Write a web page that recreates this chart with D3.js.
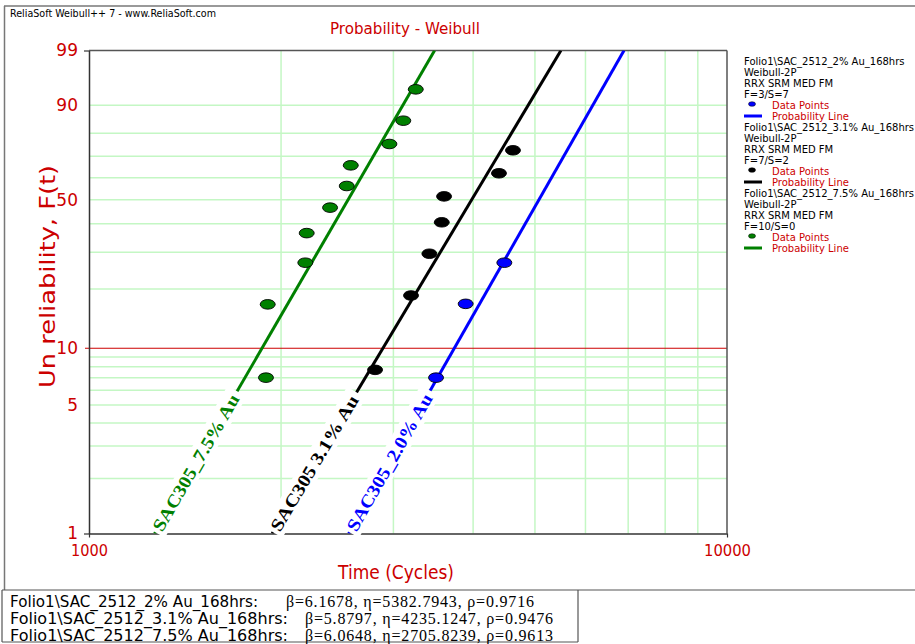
<!DOCTYPE html>
<html><head><meta charset="utf-8">
<script src="https://cdn.jsdelivr.net/npm/d3@7"></script>
<style>body{margin:0;background:#fff;overflow:hidden} svg{display:block}</style>
</head><body>
<svg id="c" width="915" height="644"></svg>
<script>
// ---------------- data ----------------
const seriesNames = ["SAC_2512_2% Au_168hrs", "SAC_2512_3.1% Au_168hrs", "SAC_2512_7.5% Au_168hrs"];
const curveLabels = ["SAC305_2.0% Au", "SAC305 3.1% Au", "SAC305_7.5% Au"];
const seriesColors = ["#0000ff", "#000000", "#008000"];
const betas = [6.1678, 5.8797, 6.0648];
const etas = [5382.7943, 4235.1247, 2705.8239];
const rhos = [0.9716, 0.9476, 0.9613];
const failSusp = ["F=3/S=7", "F=7/S=2", "F=10/S=0"];
// data points: time (cycles) and unreliability (%)
const times2 = [3499, 3894, 4477];
const unrel2 = [7.0, 16.9, 26.8];
const times31 = [2808, 3197, 3416, 3572, 3602, 4391, 4619];
const unrel31 = [7.7, 18.6, 29.5, 40.6, 51.5, 62.1, 72.7];
const times75 = [1894, 1906, 2183, 2194, 2387, 2535, 2572, 2957, 3109, 3252];
const unrel75 = [7.0, 16.8, 26.8, 36.5, 46.6, 56.2, 65.8, 75.5, 84.9, 94.0];
const yTickLabels = [1, 5, 10, 50, 90, 99];
const yGridValues = [2, 3, 4, 5, 6, 7, 8, 9, 20, 30, 40, 50, 60, 70, 80, 90];
const redLineValue = 10;
const xTickLabels = [1000, 10000];
const xGridValues = [2000, 3000, 4000, 5000, 6000, 7000, 8000, 9000];

const pointTimes = [times2, times31, times75];
const pointUnrel = [unrel2, unrel31, unrel75];

// ---------------- layout ----------------
const RED = "#cc0000", GRID = "#c4f7c4", FRAME = "#555";
const L = 89, R = 727, T = 50.5, B = 533.5;
const svg = d3.select("#c");

const wb = p => Math.log(-Math.log(1 - p / 100));
const x = d3.scaleLog().domain([1000, 10000]).range([L, R]);
const yLin = d3.scaleLinear().domain([wb(1), wb(99)]).range([B, T]);
const y = p => yLin(wb(p));
const tAt = (p, i) => etas[i] * Math.pow(-Math.log(1 - p / 100), 1 / betas[i]);

// outer frame
svg.append("line").attr("x1", 4).attr("x2", 915).attr("y1", 6).attr("y2", 6).attr("stroke", "#777").attr("stroke-width", 1.5);
svg.append("line").attr("x1", 4.5).attr("x2", 4.5).attr("y1", 6).attr("y2", 590).attr("stroke", "#777").attr("stroke-width", 1.5);
svg.append("line").attr("x1", 2).attr("x2", 915).attr("y1", 590).attr("y2", 590).attr("stroke", "#555").attr("stroke-width", 1.2);
svg.append("line").attr("x1", 2).attr("x2", 2).attr("y1", 590).attr("y2", 642).attr("stroke", "#555").attr("stroke-width", 1.2);
svg.append("line").attr("x1", 2).attr("x2", 578).attr("y1", 642).attr("y2", 642).attr("stroke", "#555").attr("stroke-width", 1.2);
svg.append("line").attr("x1", 578).attr("x2", 578).attr("y1", 590).attr("y2", 642).attr("stroke", "#555").attr("stroke-width", 1.2);

svg.append("text").attr("x", 10).attr("y", 17).attr("font-family", "DejaVu Sans").attr("font-size", 11)
  .attr("textLength", 206).attr("lengthAdjust", "spacingAndGlyphs").text("ReliaSoft Weibull++ 7 - www.ReliaSoft.com");

svg.append("text").attr("x", 405).attr("y", 34).attr("text-anchor", "middle").attr("fill", RED)
  .attr("font-family", "DejaVu Sans").attr("font-size", 16).attr("textLength", 150).attr("lengthAdjust", "spacingAndGlyphs")
  .text("Probability - Weibull");

// grid
const grid = svg.append("g");
grid.selectAll("line.h").data(yGridValues).join("line").attr("class", "h")
  .attr("x1", L).attr("x2", R).attr("y1", d => y(d)).attr("y2", d => y(d))
  .attr("stroke", GRID).attr("stroke-width", 1.5);
grid.selectAll("line.v").data(xGridValues).join("line").attr("class", "v")
  .attr("x1", d => x(d)).attr("x2", d => x(d)).attr("y1", T).attr("y2", B)
  .attr("stroke", GRID).attr("stroke-width", 1.5);
grid.append("line").attr("x1", L - 4).attr("x2", R).attr("y1", y(redLineValue)).attr("y2", y(redLineValue))
  .attr("stroke", RED).attr("stroke-width", 1.2);

// frame top/right
svg.append("line").attr("x1", L).attr("x2", R).attr("y1", T).attr("y2", T).attr("stroke", FRAME).attr("stroke-width", 1.5);
svg.append("line").attr("x1", R).attr("x2", R).attr("y1", T).attr("y2", B).attr("stroke", FRAME).attr("stroke-width", 1.5);

// axes
const fontAxis = g => g.selectAll("text").attr("fill", RED).attr("font-family", "DejaVu Sans");
const yAxis = d3.axisLeft(yLin).tickValues(yTickLabels.map(wb)).tickFormat((d, i) => yTickLabels[i])
  .tickSizeInner(5).tickSizeOuter(0).tickPadding(6);
const gy = svg.append("g").attr("transform", `translate(${L},0)`).call(yAxis);
gy.select(".domain").attr("stroke", "#333").attr("stroke-width", 1.5);
gy.selectAll(".tick line").attr("stroke", "#333").attr("stroke-width", 1.2)
  .attr("opacity", (d, i) => (yTickLabels[i] === 1 || yTickLabels[i] === 99) ? 1 : 0);
gy.call(fontAxis).selectAll("text").attr("font-size", 17);

const xAxis = d3.axisBottom(x).tickValues(xTickLabels).tickFormat(d3.format("d"))
  .tickSizeInner(4).tickSizeOuter(0).tickPadding(7);
const gx = svg.append("g").attr("transform", `translate(0,${B})`).call(xAxis);
gx.select(".domain").attr("stroke", "#333").attr("stroke-width", 1.5);
gx.selectAll(".tick line").attr("stroke", "#333").attr("stroke-width", 1.2);
gx.call(fontAxis).selectAll("text").attr("font-size", 16).attr("textLength", (d) => d === 1000 ? 37 : 47)
  .attr("lengthAdjust", "spacingAndGlyphs");

// axis titles
svg.append("text").attr("transform", "translate(55,276.5) rotate(-90)").attr("text-anchor", "middle")
  .attr("fill", RED).attr("font-family", "DejaVu Sans").attr("font-size", 21)
  .attr("textLength", 223).attr("lengthAdjust", "spacingAndGlyphs").text("Un reliability, F(t)");
svg.append("text").attr("x", 396).attr("y", 579).attr("text-anchor", "middle")
  .attr("fill", RED).attr("font-family", "DejaVu Sans").attr("font-size", 20)
  .attr("textLength", 116).attr("lengthAdjust", "spacingAndGlyphs").text("Time (Cycles)");

// probability lines
const plotClip = svg.append("clipPath").attr("id", "pc").append("rect")
  .attr("x", L).attr("y", T).attr("width", R - L).attr("height", B - T);
const lineGen = d3.line().x(d => x(d[0])).y(d => y(d[1]));
seriesNames.forEach((n, i) => {
  const pts = [[tAt(1, i), 1], [tAt(99, i), 99]];
  svg.append("path").attr("d", lineGen(pts)).attr("stroke", seriesColors[i]).attr("stroke-width", 3)
    .attr("fill", "none").attr("clip-path", "url(#pc)");
});

// curve labels
const labelLen = 155;
seriesNames.forEach((n, i) => {
  const p0 = 1.05;
  const ax = x(tAt(p0, i)), ay = y(p0);
  const bx = x(tAt(99, i)), by = y(99);
  const ang = Math.atan2(by - ay, bx - ax) * 180 / Math.PI;
  const g = svg.append("g").attr("transform", `translate(${ax},${ay}) rotate(${ang})`);
  g.append("rect").attr("x", -3).attr("y", -11).attr("width", labelLen + 8).attr("height", 22).attr("fill", "#fff");
  g.append("text").attr("x", 0).attr("y", 0).attr("dy", "0.35em").attr("fill", seriesColors[i])
    .attr("font-family", "Liberation Serif").attr("font-weight", "bold").attr("font-size", 18)
    .attr("textLength", labelLen).attr("lengthAdjust", "spacingAndGlyphs").text(curveLabels[i]);
});

// data points
seriesNames.forEach((n, i) => {
  svg.append("g").selectAll("ellipse").data(pointTimes[i].map((t, k) => [t, pointUnrel[i][k]])).join("ellipse")
    .attr("cx", d => x(d[0])).attr("cy", d => y(d[1])).attr("rx", 7.5).attr("ry", 4.8)
    .attr("fill", seriesColors[i]).attr("stroke", "#000").attr("stroke-width", 0.9);
});

// legend
const lg = svg.append("g").attr("font-family", "DejaVu Sans").attr("font-size", 10);
seriesNames.forEach((n, i) => {
  const y0 = 61 + i * 66;
  const rows = ["Folio1\\" + n, "Weibull-2P", "RRX SRM MED FM", failSusp[i]];
  rows.forEach((r, k) => lg.append("text").attr("x", 744).attr("y", y0 + k * 11 + 3.5).text(r));
  lg.append("ellipse").attr("cx", 752).attr("cy", y0 + 44 - 1).attr("rx", 3.5).attr("ry", 2.3).attr("fill", seriesColors[i]).attr("stroke", "#000").attr("stroke-width", 0.5);
  lg.append("text").attr("x", 772).attr("y", y0 + 44 + 3.5).attr("fill", RED).text("Data Points");
  lg.append("line").attr("x1", 744).attr("x2", 762).attr("y1", y0 + 55).attr("y2", y0 + 55).attr("stroke", seriesColors[i]).attr("stroke-width", 3);
  lg.append("text").attr("x", 772).attr("y", y0 + 55 + 3.5).attr("fill", RED).text("Probability Line");
});

// bottom parameter table
const baselines = [606.5, 624, 641];
const nameLens = [248, 278, 278];
const paramX = [286, 305, 305];
const fmt4 = d3.format(".4f");
seriesNames.forEach((n, i) => {
  svg.append("text").attr("x", 10).attr("y", baselines[i]).attr("font-family", "DejaVu Sans").attr("font-size", 15)
    .attr("textLength", nameLens[i]).attr("lengthAdjust", "spacingAndGlyphs").text("Folio1\\" + n + ":");
  svg.append("text").attr("x", paramX[i]).attr("y", baselines[i]).attr("font-family", "Liberation Serif").attr("font-size", 16)
    .attr("textLength", 248).attr("lengthAdjust", "spacing")
    .text(`β=${fmt4(betas[i])}, η=${fmt4(etas[i])}, ρ=${fmt4(rhos[i])}`);
});
</script>
</body></html>
